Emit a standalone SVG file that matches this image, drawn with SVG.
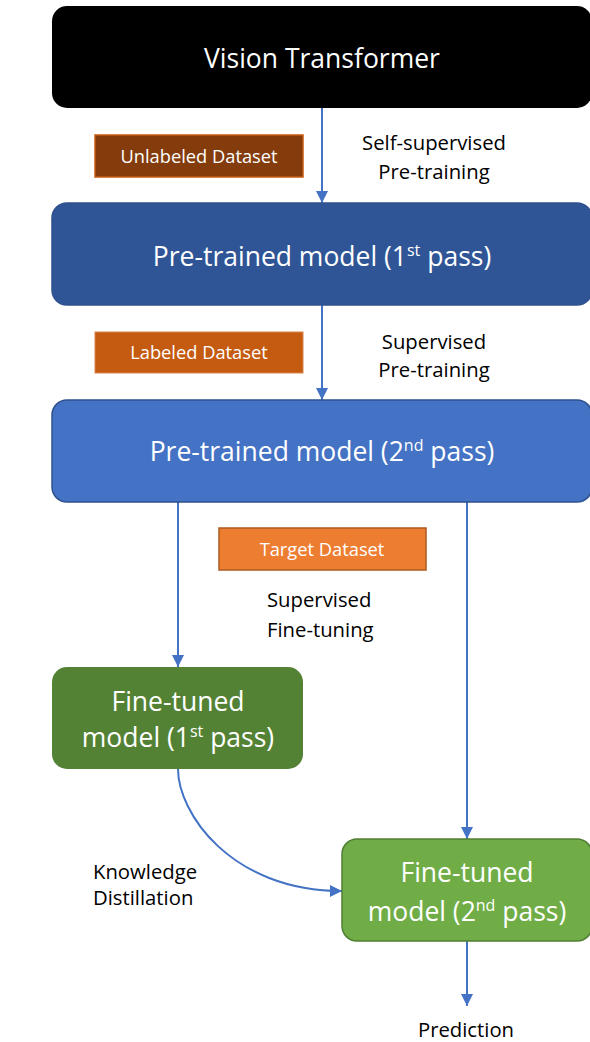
<svg xmlns="http://www.w3.org/2000/svg" width="590" height="1042" viewBox="0 0 590 1042">
<defs>
<style>
.big{font-family:"Open Sans","Liberation Sans",sans-serif;font-size:26.5px;fill:#fff;text-anchor:middle}
.lbl{font-family:"Open Sans","Liberation Sans",sans-serif;font-size:20.3px;fill:#000}
.ds{font-family:"Open Sans","Liberation Sans",sans-serif;font-size:18.3px;fill:#fff;text-anchor:middle}
.conn{fill:none;stroke:#4472C4;stroke-width:2}
</style>
<marker id="ah" viewBox="0 0 12 12" refX="12" refY="6" markerWidth="12" markerHeight="12" markerUnits="userSpaceOnUse" orient="auto">
<path d="M0,0 L12,6 L0,12 Z" fill="#4472C4"/>
</marker>
</defs>
<rect width="590" height="1042" fill="#fff"/>
<g id="connectors">
<line class="conn" x1="322" y1="108" x2="322" y2="203" marker-end="url(#ah)"/>
<line class="conn" x1="322" y1="305" x2="322" y2="400" marker-end="url(#ah)"/>
<line class="conn" x1="178" y1="502" x2="178" y2="667" marker-end="url(#ah)"/>
<line class="conn" x1="467" y1="502" x2="467" y2="839" marker-end="url(#ah)"/>
<path class="conn" d="M178,769 C178,812 230,891 342,891" marker-end="url(#ah)"/>
<line class="conn" x1="467" y1="941" x2="467" y2="1006" marker-end="url(#ah)"/>
</g>
<g id="vit">
<rect x="52" y="6" width="540" height="102" rx="15" fill="#000"/>
<text class="big" x="322" y="67.5">Vision Transformer</text>
</g>
<g id="unlabeled">
<rect x="95" y="135" width="208" height="42" fill="#843C0C" stroke="#C55A11" stroke-width="1.5"/>
<text class="ds" x="199" y="162.5">Unlabeled Dataset</text>
</g>
<g id="lbl-ssl">
<text class="lbl" x="434" y="150" text-anchor="middle">Self-supervised</text>
<text class="lbl" x="434" y="179" text-anchor="middle">Pre-training</text>
</g>
<g id="pre1">
<rect x="52" y="203" width="540" height="102" rx="15" fill="#2F5597" stroke="#2F528F" stroke-width="1.5"/>
<text class="big" x="322" y="266">Pre-trained model (1<tspan dy="-10" font-size="16">st</tspan><tspan dy="10"> pass)</tspan></text>
</g>
<g id="labeled">
<rect x="95" y="332" width="208" height="41" fill="#C55A11" stroke="#D9834A" stroke-width="1"/>
<text class="ds" x="199" y="359">Labeled Dataset</text>
</g>
<g id="lbl-sp">
<text class="lbl" x="434" y="349" text-anchor="middle">Supervised</text>
<text class="lbl" x="434" y="377" text-anchor="middle">Pre-training</text>
</g>
<g id="pre2">
<rect x="52" y="400" width="540" height="102" rx="15" fill="#4472C4" stroke="#2F528F" stroke-width="1.5"/>
<text class="big" x="322" y="461">Pre-trained model (2<tspan dy="-10" font-size="16">nd</tspan><tspan dy="10"> pass)</tspan></text>
</g>
<g id="target">
<rect x="219" y="528" width="207" height="42" fill="#ED7D31" stroke="#AE5A21" stroke-width="1.5"/>
<text class="ds" x="322" y="556">Target Dataset</text>
</g>
<g id="lbl-ft">
<text class="lbl" x="267" y="607">Supervised</text>
<text class="lbl" x="267" y="637">Fine-tuning</text>
</g>
<g id="ft1">
<rect x="52" y="667" width="251" height="102" rx="15" fill="#548235"/>
<text class="big" x="178" y="711">Fine-tuned</text>
<text class="big" x="178" y="747">model (1<tspan dy="-10" font-size="16">st</tspan><tspan dy="10"> pass)</tspan></text>
</g>
<g id="lbl-kd">
<text class="lbl" x="93" y="879">Knowledge</text>
<text class="lbl" x="93" y="905">Distillation</text>
</g>
<g id="ft2">
<rect x="342" y="839" width="250" height="102" rx="15" fill="#70AD47" stroke="#507E32" stroke-width="1.5"/>
<text class="big" x="467" y="882">Fine-tuned</text>
<text class="big" x="467" y="921">model (2<tspan dy="-10" font-size="16">nd</tspan><tspan dy="10"> pass)</tspan></text>
</g>
<g id="prediction">
<text class="lbl" x="466" y="1037" text-anchor="middle">Prediction</text>
</g>
</svg>
